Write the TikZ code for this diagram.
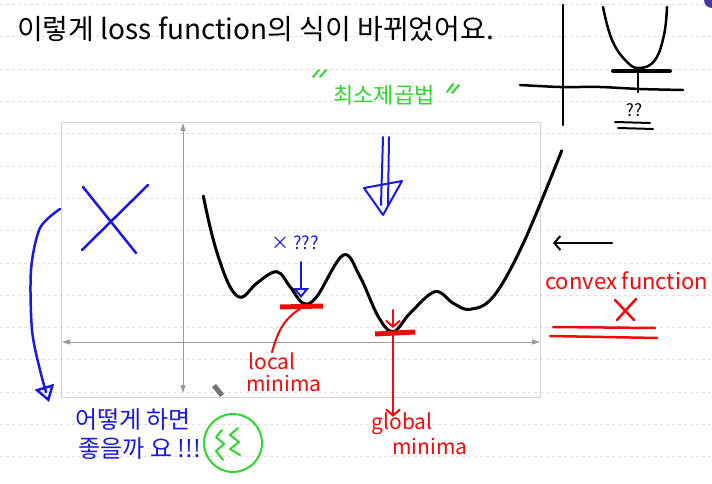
\documentclass[tikz,border=0pt]{standalone}
\usepackage{fontspec}
\setmainfont{Noto Sans CJK KR}
\usetikzlibrary{arrows.meta}
\definecolor{penblue}{RGB}{25,25,225}
\definecolor{penred}{RGB}{240,10,10}
\definecolor{pengreen}{RGB}{45,215,45}
\definecolor{cursorpurple}{RGB}{70,55,165}
\def\hw#1{\fontsize{#1}{#1}\selectfont}

\begin{document}
\begin{tikzpicture}[x=1pt, y=-1pt,
  ink/.style={line width=2.5pt, line cap=round, line join=round},
  notebook/.style={line width=0.6pt, color=black!12, dash pattern=on 3pt off 3pt},
  axisline/.style={line width=1pt, color=black!40},
  vhead/.style={-{Straight Barb[length=6pt,width=14pt]}},
  ohead/.style={-{Triangle[open,length=10pt,width=16pt]}},
  label/.style={inner sep=0pt, anchor=center}]
			%%%%% START %%%%%
			
			\fill[white] (0,0) rectangle (712,484);
			\useasboundingbox (0,0) rectangle (712,484);
			\foreach \k in {0,...,14}
			\draw[notebook] (0,{4.4+32.3*\k}) -- (712,{4.4+32.3*\k});
			\fill[cursorpurple] (712,0) circle[radius=8pt];
			
			\node[label, anchor=west] (title) at (17,29) {\hw{28}이렇게 loss function의 식이 바뀌었어요.};
			
			% graph frame and axes
			\draw[line width=0.8pt, color=black!18] (61,122) rectangle (540,397);
			\draw[axisline, {Triangle[length=8pt,width=5pt]}-{Triangle[length=8pt,width=5pt]}] (62,342) -- (540,342);
			\draw[axisline, {Triangle[length=8pt,width=5pt]}-{Triangle[length=8pt,width=5pt]}] (183,393) -- (183,123);
			
			% the loss curve
			\draw[ink, line width=3pt] plot[smooth, tension=0.6] coordinates {
				(203.3,196) (210,226.7) (218.3,256.7) (230,286.7) (241.7,297.3)
				(256.7,283.3) (276.7,271.7) (290,286.7) (303.3,303.3) (316.7,296.7)
				(343.3,255) (360,276.7) (378.3,316.7) (393.3,331.7) (410,313.3)
				(435,291.7) (453.3,303.3) (470,309.3) (493.3,296.7) (523.3,243.3)
				(561.7,150.7)};
			
			% minima marks
			\draw[penred, line width=5pt] (280,307) -- (323,306);
			\draw[penred, line width=5pt] (375,334) -- (415,332);
			\coordinate (lbar) at (300,309);
			\coordinate (gbar) at (393,335);
			\draw[penred, ink, vhead, line width=2pt] (393,310) -- (393,328);
			
			\node[label, text=penred] (localtxt) at (272,361) {\hw{21}local};
			\node[label, text=penred] (localtxt2) at (284,383) {\hw{21}minima};
			\draw[penred, ink, line width=2pt] (lbar) .. controls (285,318) and (278,330) .. (localtxt.north);
			
			\node[label, text=penred] (globaltxt) at (402,424) {\hw{21}global};
			\node[label, text=penred] (globaltxt2) at (430,446) {\hw{21}minima};
			\draw[penred, ink, vhead, line width=2pt] (gbar) -- ([yshift=-4pt]globaltxt.north -| gbar);
			
			% blue pen
			\node[label, text=penblue] (asktxt) at (295,243) {\hw{18}× ???};
			\draw[penblue, ink, ohead, line width=2pt] (301,262) -- (301,298);
			
			\draw[penblue, ink] (83,187) -- (136,253);
			\draw[penblue, ink] (148,185) -- (82,250);
			
			\draw[penblue, ink, -{Triangle[open,length=16pt,width=20pt]}] plot[smooth] coordinates {
				(60,209) (40,228) (31,270) (32,330) (40,370) (49,402)};
			
			\draw[penblue, ink, line width=2pt] (383,137) -- (381,205);
			\draw[penblue, ink, line width=2pt] (389,137) -- (388,205);
			\draw[penblue, ink, line width=2pt] (364,188) -- (402,181) -- (383,215) -- cycle;
			
			\node[label, text=penblue] (howtxt) at (133,420) {\hw{24}어떻게 하면};
			\node[label, text=penblue] (howtxt2) at (140,449) {\hw{24}좋을까 요 !!!};
			
			% green pen
			\node[label, text=pengreen] (lsqtxt) at (384,95) {\hw{22}최소제곱법};
			\draw[pengreen, ink, line width=2pt] (313,77) -- (319,70);
			\draw[pengreen, ink, line width=2pt] (320,77) -- (326,70);
			\draw[pengreen, ink, line width=2pt] (447,92) -- (453,84);
			\draw[pengreen, ink, line width=2pt] (452,93) -- (459,85);
			
			\draw[pengreen, line width=2pt] (233,443) circle[radius=29pt];
			\draw[pengreen, ink, line width=2pt] (222,430) -- (216,437) -- (224,444) -- (216,451) -- (223,460);
			\draw[pengreen, ink, line width=2pt] (238,428) -- (230,435) -- (239,442) -- (230,449) -- (240,455);
			
			% pen cursor
			\fill[black!55] (212,387) -- (216,384) -- (224,394) -- (220,397) -- cycle;
			
			% right side note
			\draw[ink, vhead, line width=2pt] (612,243) -- (553,243);
			\node[label, anchor=west, text=penred] (convextxt) at (545,281) {\hw{22}convex function};
			\draw[penred, ink] (615,300) -- (634,320);
			\draw[penred, ink] (636,299) -- (617,320);
			\draw[penred, ink] (553,327) -- (655,328);
			\draw[penred, ink] (550,336) -- (657,338);
			
			% small convex plot
			\draw[ink] (563,5) -- (563,125);
			\draw[ink] plot[smooth] coordinates {(520,85) (560,87) (600,87) (640,89) (683,90)};
			\draw[ink] plot[smooth, tension=0.7] coordinates {(603,7) (612,40) (627,62) (640,68) (655,60) (664,35) (667,7)};
			\draw[ink, line width=4pt] (613,71) -- (670,71);
			\draw[ink] (638,68) -- (638,92);
			\node[label] (qtxt) at (634,110) {\hw{17}??};
			\draw[ink, line width=2pt] (615,122) -- (650,123);
			\draw[ink, line width=2pt] (618,128) -- (653,129);
			
			%%%%% END %%%%%
\end{tikzpicture}
\end{document}
